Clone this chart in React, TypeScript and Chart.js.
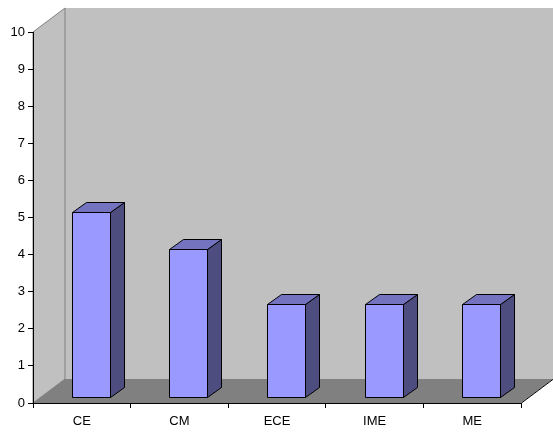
import React, { useEffect, useRef } from "react";
import { Chart, registerables } from "chart.js";

Chart.register(...registerables);

const categories = ["CE", "CM", "ECE", "IME", "ME"];
const values = [5, 4, 2.5, 2.5, 2.5];
const yTicks = [0, 1, 2, 3, 4, 5, 6, 7, 8, 9, 10];

// Depth of the 3D box (walls/floor) and placement of the bars within it
const DEPTH_X = 32;
const DEPTH_Y = -24;
const BAR_OFF_X = 9;
const BAR_OFF_Y = -6;
const BAR_DEPTH_X = 14;
const BAR_DEPTH_Y = -10;

const walls3d = {
  id: "walls3d",
  beforeDraw(chart: any) {
    const { ctx, chartArea } = chart;
    const { left, right, top, bottom } = chartArea;
    ctx.save();
    ctx.lineWidth = 1;
    ctx.strokeStyle = "#808080";
    // back wall
    ctx.fillStyle = "#c0c0c0";
    ctx.fillRect(left + DEPTH_X, top + DEPTH_Y, chart.width, bottom - top);
    // left wall
    ctx.beginPath();
    ctx.moveTo(left, top);
    ctx.lineTo(left + DEPTH_X, top + DEPTH_Y);
    ctx.lineTo(left + DEPTH_X, bottom + DEPTH_Y);
    ctx.lineTo(left, bottom);
    ctx.closePath();
    ctx.fill();
    ctx.stroke();
    // floor
    ctx.fillStyle = "#808080";
    ctx.beginPath();
    ctx.moveTo(left, bottom);
    ctx.lineTo(left + DEPTH_X, bottom + DEPTH_Y);
    ctx.lineTo(right + DEPTH_X, bottom + DEPTH_Y);
    ctx.lineTo(right, bottom);
    ctx.closePath();
    ctx.fill();
    ctx.strokeStyle = "#000000";
    ctx.beginPath();
    ctx.moveTo(right + 0.5, bottom);
    ctx.lineTo(right + DEPTH_X + 0.5, bottom + DEPTH_Y);
    ctx.stroke();
    ctx.restore();
  },
};

const bars3d = {
  id: "bars3d",
  afterDatasetsDraw(chart: any) {
    const { ctx } = chart;
    const meta = chart.getDatasetMeta(0);
    ctx.save();
    ctx.lineWidth = 1;
    ctx.strokeStyle = "#000000";
    ctx.lineJoin = "round";
    meta.data.forEach((bar: any) => {
      const { x, y, base, width } = bar.getProps(["x", "y", "base", "width"], true);
      const l = Math.round(x - width / 2 + BAR_OFF_X) + 0.5;
      const r = Math.round(x + width / 2 + BAR_OFF_X) + 0.5;
      const t = Math.round(y + BAR_OFF_Y) + 0.5;
      const b = Math.round(base + BAR_OFF_Y) + 0.5;
      // side face
      ctx.fillStyle = "#4d4d80";
      ctx.beginPath();
      ctx.moveTo(r, t);
      ctx.lineTo(r + BAR_DEPTH_X, t + BAR_DEPTH_Y);
      ctx.lineTo(r + BAR_DEPTH_X, b + BAR_DEPTH_Y);
      ctx.lineTo(r, b);
      ctx.closePath();
      ctx.fill();
      ctx.stroke();
      // top face
      ctx.fillStyle = "#7373bf";
      ctx.beginPath();
      ctx.moveTo(l, t);
      ctx.lineTo(l + BAR_DEPTH_X, t + BAR_DEPTH_Y);
      ctx.lineTo(r + BAR_DEPTH_X, t + BAR_DEPTH_Y);
      ctx.lineTo(r, t);
      ctx.closePath();
      ctx.fill();
      ctx.stroke();
      // front face
      ctx.fillStyle = "#9999ff";
      ctx.fillRect(l, t, r - l, b - t);
      ctx.strokeRect(l, t, r - l, b - t);
    });
    ctx.restore();
  },
};

export default function App() {
  const canvasRef = useRef<HTMLCanvasElement | null>(null);

  useEffect(() => {
    document.body.style.margin = "0";
    const canvas = canvasRef.current;
    if (!canvas) return;
    const chart = new Chart(canvas, {
      type: "bar",
      data: {
        labels: categories,
        datasets: [
          {
            data: values,
            backgroundColor: "rgba(0,0,0,0)",
            borderWidth: 0,
            categoryPercentage: 1,
            barPercentage: 0.39,
          },
        ],
      },
      options: {
        responsive: false,
        animation: false,
        layout: { padding: { left: 0, right: 32, top: 32, bottom: 0 } },
        plugins: {
          legend: { display: false },
          tooltip: { enabled: false },
        },
        scales: {
          x: {
            grid: {
              offset: true,
              drawOnChartArea: false,
              tickLength: 5,
              color: "#000000",
            },
            border: { color: "#000000", width: 1 },
            ticks: {
              color: "#000000",
              padding: 6,
              font: { family: "Liberation Sans, Arial, sans-serif", size: 13 },
            },
            afterFit(scale: any) {
              scale.height = 29;
            },
          },
          y: {
            min: 0,
            max: 10,
            afterBuildTicks(scale: any) {
              scale.ticks = yTicks.map((v) => ({ value: v }));
            },
            grid: {
              drawOnChartArea: false,
              tickLength: 5,
              color: "#000000",
            },
            border: { color: "#000000", width: 1 },
            ticks: {
              color: "#000000",
              padding: 3,
              font: { family: "Liberation Sans, Arial, sans-serif", size: 13 },
            },
            afterFit(scale: any) {
              scale.width = 33;
            },
          },
        },
      },
      plugins: [walls3d, bars3d],
    });
    return () => chart.destroy();
  }, []);

  return <canvas ref={canvasRef} width={553} height={432} style={{ display: "block" }} />;
}
